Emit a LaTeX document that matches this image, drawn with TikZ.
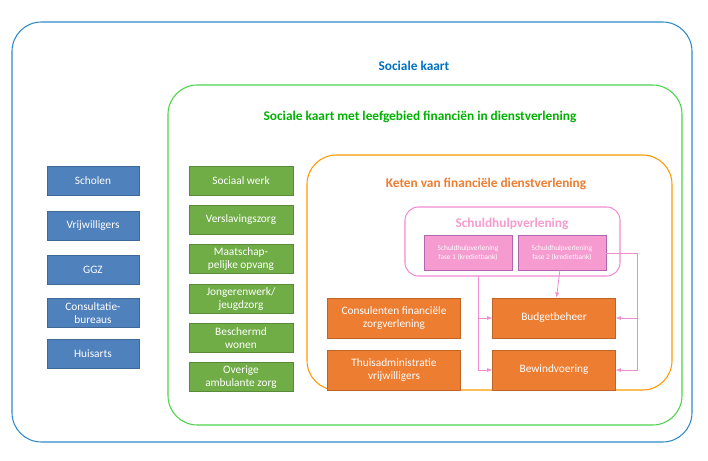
\documentclass[tikz,border=0pt]{standalone}
\usepackage{fontspec}
\setmainfont{Carlito}
\usetikzlibrary{arrows.meta,positioning,calc}
\definecolor{kblue}{HTML}{4F81BD}
\definecolor{kframe}{HTML}{2E8BC8}
\definecolor{ktitle}{HTML}{0070C0}
\definecolor{kgreen}{HTML}{70AD47}
\definecolor{korange}{HTML}{ED7D31}
\definecolor{kpink}{HTML}{F59BD0}
\definecolor{kline}{HTML}{F08CD0}
\tikzset{
  bluebox/.style={draw=kblue!80!black,fill=kblue,text=white,minimum width=69pt,minimum height=22pt,inner sep=1pt,align=center,font=\fontsize{8.5}{9.5}\selectfont},
  greenbox/.style={draw=kgreen!80!black,fill=kgreen,text=white,minimum width=78pt,minimum height=22pt,inner sep=1pt,align=center,font=\fontsize{8.5}{9.5}\selectfont},
  orangebox/.style={draw=korange!80!black,fill=korange,text=white,minimum width=100pt,minimum height=30pt,inner sep=1pt,align=center,font=\fontsize{8.5}{10}\selectfont},
  pinkbox/.style={draw=violet!60,fill=kpink,text=white,minimum width=66pt,minimum height=26pt,inner sep=1pt,align=center,font=\fontsize{5.5}{7}\selectfont},
  frame/.style={rounded corners=22pt,line width=0.8pt},
  link/.style={kline,line width=0.6pt,-{Latex[length=4pt]}},
}
\begin{document}
\begin{tikzpicture}[x=0.75pt,y=-0.75pt]
  \useasboundingbox (0,0) rectangle (708,461);
  % frames
  \draw[frame,draw=kframe] (12,22) rectangle (692,442);
  \draw[frame,draw=green!75!black!70] (168,85) rectangle (682,425);
  \draw[frame,draw=orange!80!yellow] (307,155) rectangle (672,390);
  \draw[rounded corners=10pt,draw=kline,line width=0.8pt] (405,207) rectangle (620,276);

  % titles
  \node[text=ktitle,font=\bfseries\fontsize{10}{11}\selectfont] (tkaart) at (414,66) {Sociale kaart};
  \node[text=green!70!black,font=\bfseries\fontsize{10}{11}\selectfont] (tleef) at (420,117) {Sociale kaart met leefgebied financiën in dienstverlening};
  \node[text=korange,font=\bfseries\fontsize{10}{11}\selectfont] (tketen) at (486,184) {Keten van financiële dienstverlening};
  \node[text=kpink,font=\bfseries\fontsize{10}{11}\selectfont] (tschuld) at (512,224) {Schuldhulpverlening};

  % left column
  \node[bluebox] (scholen) at (93,181) {Scholen};
  \node[bluebox] (vrijw) at (93,226) {Vrijwilligers};
  \node[bluebox] (ggz) at (93,270) {GGZ};
  \node[bluebox] (consult) at (93,313) {Consultatie-\\bureaus};
  \node[bluebox] (huisarts) at (93,354) {Huisarts};

  % middle column
  \node[greenbox] (sociaal) at (241,181) {Sociaal werk};
  \node[greenbox] (versl) at (241,220) {Verslavingszorg};
  \node[greenbox] (maatsch) at (241,259) {Maatschap-\\pelijke opvang};
  \node[greenbox] (jongeren) at (241,299) {Jongerenwerk/\\jeugdzorg};
  \node[greenbox] (beschermd) at (241,338) {Beschermd\\wonen};
  \node[greenbox] (overige) at (241,377) {Overige\\ambulante zorg};

  % keten
  \node[pinkbox] (fase1) at (468,253) {Schuldhulpverlening\\fase 1 (kredietbank)};
  \node[pinkbox] (fase2) at (562,253) {Schuldhulpverlening\\fase 2 (kredietbank)};
  \node[orangebox] (consulenten) at (394,318) {Consulenten financiële\\zorgverlening};
  \node[orangebox] (thuis) at (394,370) {Thuisadministratie\\vrijwilligers};
  \node[orangebox,minimum width=92pt] (budget) at (554,318) {Budgetbeheer};
  \node[orangebox,minimum width=92pt] (bewind) at (554,370) {Bewindvoering};

  % arcs
  \coordinate (ltop) at (478,276);
  \coordinate (rtop) at (637,257);
  \draw[link] (fase2) -- (budget);
  \draw[link] (ltop) |- (bewind);
  \draw[link] (478,318) -- (budget.west);
  \draw[link] (fase2.east) -| ($(rtop)+(0,113)$) -- (bewind.east);
  \draw[link] (637,318) -- (budget.east);
\end{tikzpicture}
\end{document}
